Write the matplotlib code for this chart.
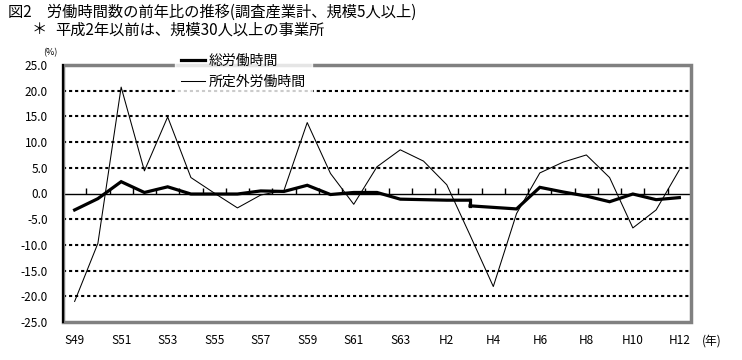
import matplotlib
matplotlib.use('Agg')
import matplotlib.pyplot as plt
import numpy as np
from matplotlib.patches import Rectangle

plt.rcParams['font.family'] = ['Noto Sans CJK JP', 'DejaVu Sans']
plt.rcParams['axes.unicode_minus'] = False

# ---- data ----
years = ['S49', 'S50', 'S51', 'S52', 'S53', 'S54', 'S55', 'S56', 'S57', 'S58',
         'S59', 'S60', 'S61', 'S62', 'S63', 'H1', 'H2', 'H3', 'H4', 'H5',
         'H6', 'H7', 'H8', 'H9', 'H10', 'H11', 'H12']
overtime = [-21.0, -9.7, 20.7, 4.4, 14.9, 3.1, 0.1, -2.8, -0.3, 0.6,
            13.8, 3.9, -2.1, 5.2, 8.5, 6.3, 1.7, -8.1, -18.1, -3.9,
            4.0, 6.1, 7.5, 3.1, -6.7, -3.2, 4.6]
# total hours: old basis (30+ employees) S49..H3, new basis (5+) H3..H12
total_old = [-3.2, -1.0, 2.3, 0.2, 1.3, -0.1, -0.1, -0.1, 0.5, 0.4,
             1.6, -0.2, 0.2, 0.2, -1.1, -1.2, -1.3, -1.3]
total_new = [-2.4, -2.7, -3.0, 1.2, 0.3, -0.5, -1.6, -0.1, -1.2, -0.8]
yticks = [-25, -20, -15, -10, -5, 0, 5, 10, 15, 20, 25]

title1 = '図2　労働時間数の前年比の推移(調査産業計、規模5人以上)'
title2 = '平成2年以前は、規模30人以上の事業所'
label_total = '総労働時間'
label_over = '所定外労働時間'

W, H = 742, 360
fig = plt.figure(figsize=(W / 100, H / 100), dpi=100)
L, R, T, B = 63, 691, 65, 322
ax = fig.add_axes([L / W, 1 - B / H, (R - L) / W, (B - T) / H])

n = len(years)
x_all = np.arange(n)
x_old = x_all[:len(total_old)]
x_new = x_all[n - len(total_new):]

ax.set_xlim(-0.5, n - 0.5)
ax.set_ylim(-25, 25)

# dotted grid
for yv in yticks:
    if yv in (-25, 0, 25):
        continue
    ax.axhline(yv, color='black', lw=1.5, ls=(0, (1.5, 1.4)), zorder=1)

ax.plot(x_all, overtime, color='black', lw=0.75, zorder=3, label=label_over)
ax.plot(x_old, total_old, color='black', lw=2.3, zorder=4, label=label_total,
        solid_joinstyle='miter')
ax.plot(x_new, total_new, color='black', lw=2.3, zorder=4,
        solid_joinstyle='miter')
ax.plot([x_old[-1], x_new[0]], [total_old[-1], total_new[0]], color='black',
        lw=2.3, zorder=4)

# spines: bottom spine at zero with category ticks pointing up
for s in ['top', 'right']:
    ax.spines[s].set_visible(False)
ax.spines['bottom'].set_position(('data', 0))
ax.spines['bottom'].set_color('black')
ax.spines['bottom'].set_linewidth(1.0)
ax.spines['bottom'].set_zorder(2)
ax.spines['left'].set_color('black')
ax.spines['left'].set_linewidth(1.5)
ax.spines['left'].set_zorder(6)

ax.set_xticks(np.arange(-0.5, n, 1.0))
ax.tick_params(axis='x', direction='in', length=4, width=1, labelbottom=False,
               color='black')
ax.set_yticks(yticks)
ax.set_yticklabels([f'{v:.1f}' for v in yticks], fontsize=8.5)
ax.tick_params(axis='y', length=0, pad=11)

# gray outer border
border = Rectangle((0, 0), 1, 1, transform=ax.transAxes, fill=False,
                   edgecolor='#808080', lw=2.5, zorder=5, clip_on=False)
ax.add_patch(border)

# category labels below plot
sec = ax.secondary_xaxis('bottom')
sec.set_xticks(x_all[::2])
sec.set_xticklabels(years[::2], fontsize=8.5)
sec.tick_params(length=0, pad=9)
sec.spines['bottom'].set_visible(False)

# legend
handles, labels = ax.get_legend_handles_labels()
order = [labels.index(label_total), labels.index(label_over)]
leg = ax.legend([handles[i] for i in order], [labels[i] for i in order],
                loc='upper left', bbox_to_anchor=(175 / W, 1 - 48 / H),
                bbox_transform=fig.transFigure, fontsize=10, frameon=True,
                handlelength=1.7, handletextpad=0.3, labelspacing=0.45,
                borderpad=0.45, borderaxespad=0, fancybox=False)
leg.get_frame().set_facecolor('white')
leg.get_frame().set_edgecolor('white')
leg.set_zorder(10)

fig.text(8 / W, 1 - 12 / H, title1, fontsize=11, va='center', ha='left')
fig.text(32 / W, 1 - 30 / H, '＊', fontsize=11, va='center', ha='left')
fig.text(55 / W, 1 - 30 / H, title2, fontsize=11, va='center', ha='left')
fig.text(43 / W, 1 - 53 / H, '(%)', fontsize=6.5, va='center', ha='left')
fig.text(702 / W, 1 - 341 / H, '(年)', fontsize=8.5, va='center', ha='left')

fig.savefig('out.png', dpi=100)
